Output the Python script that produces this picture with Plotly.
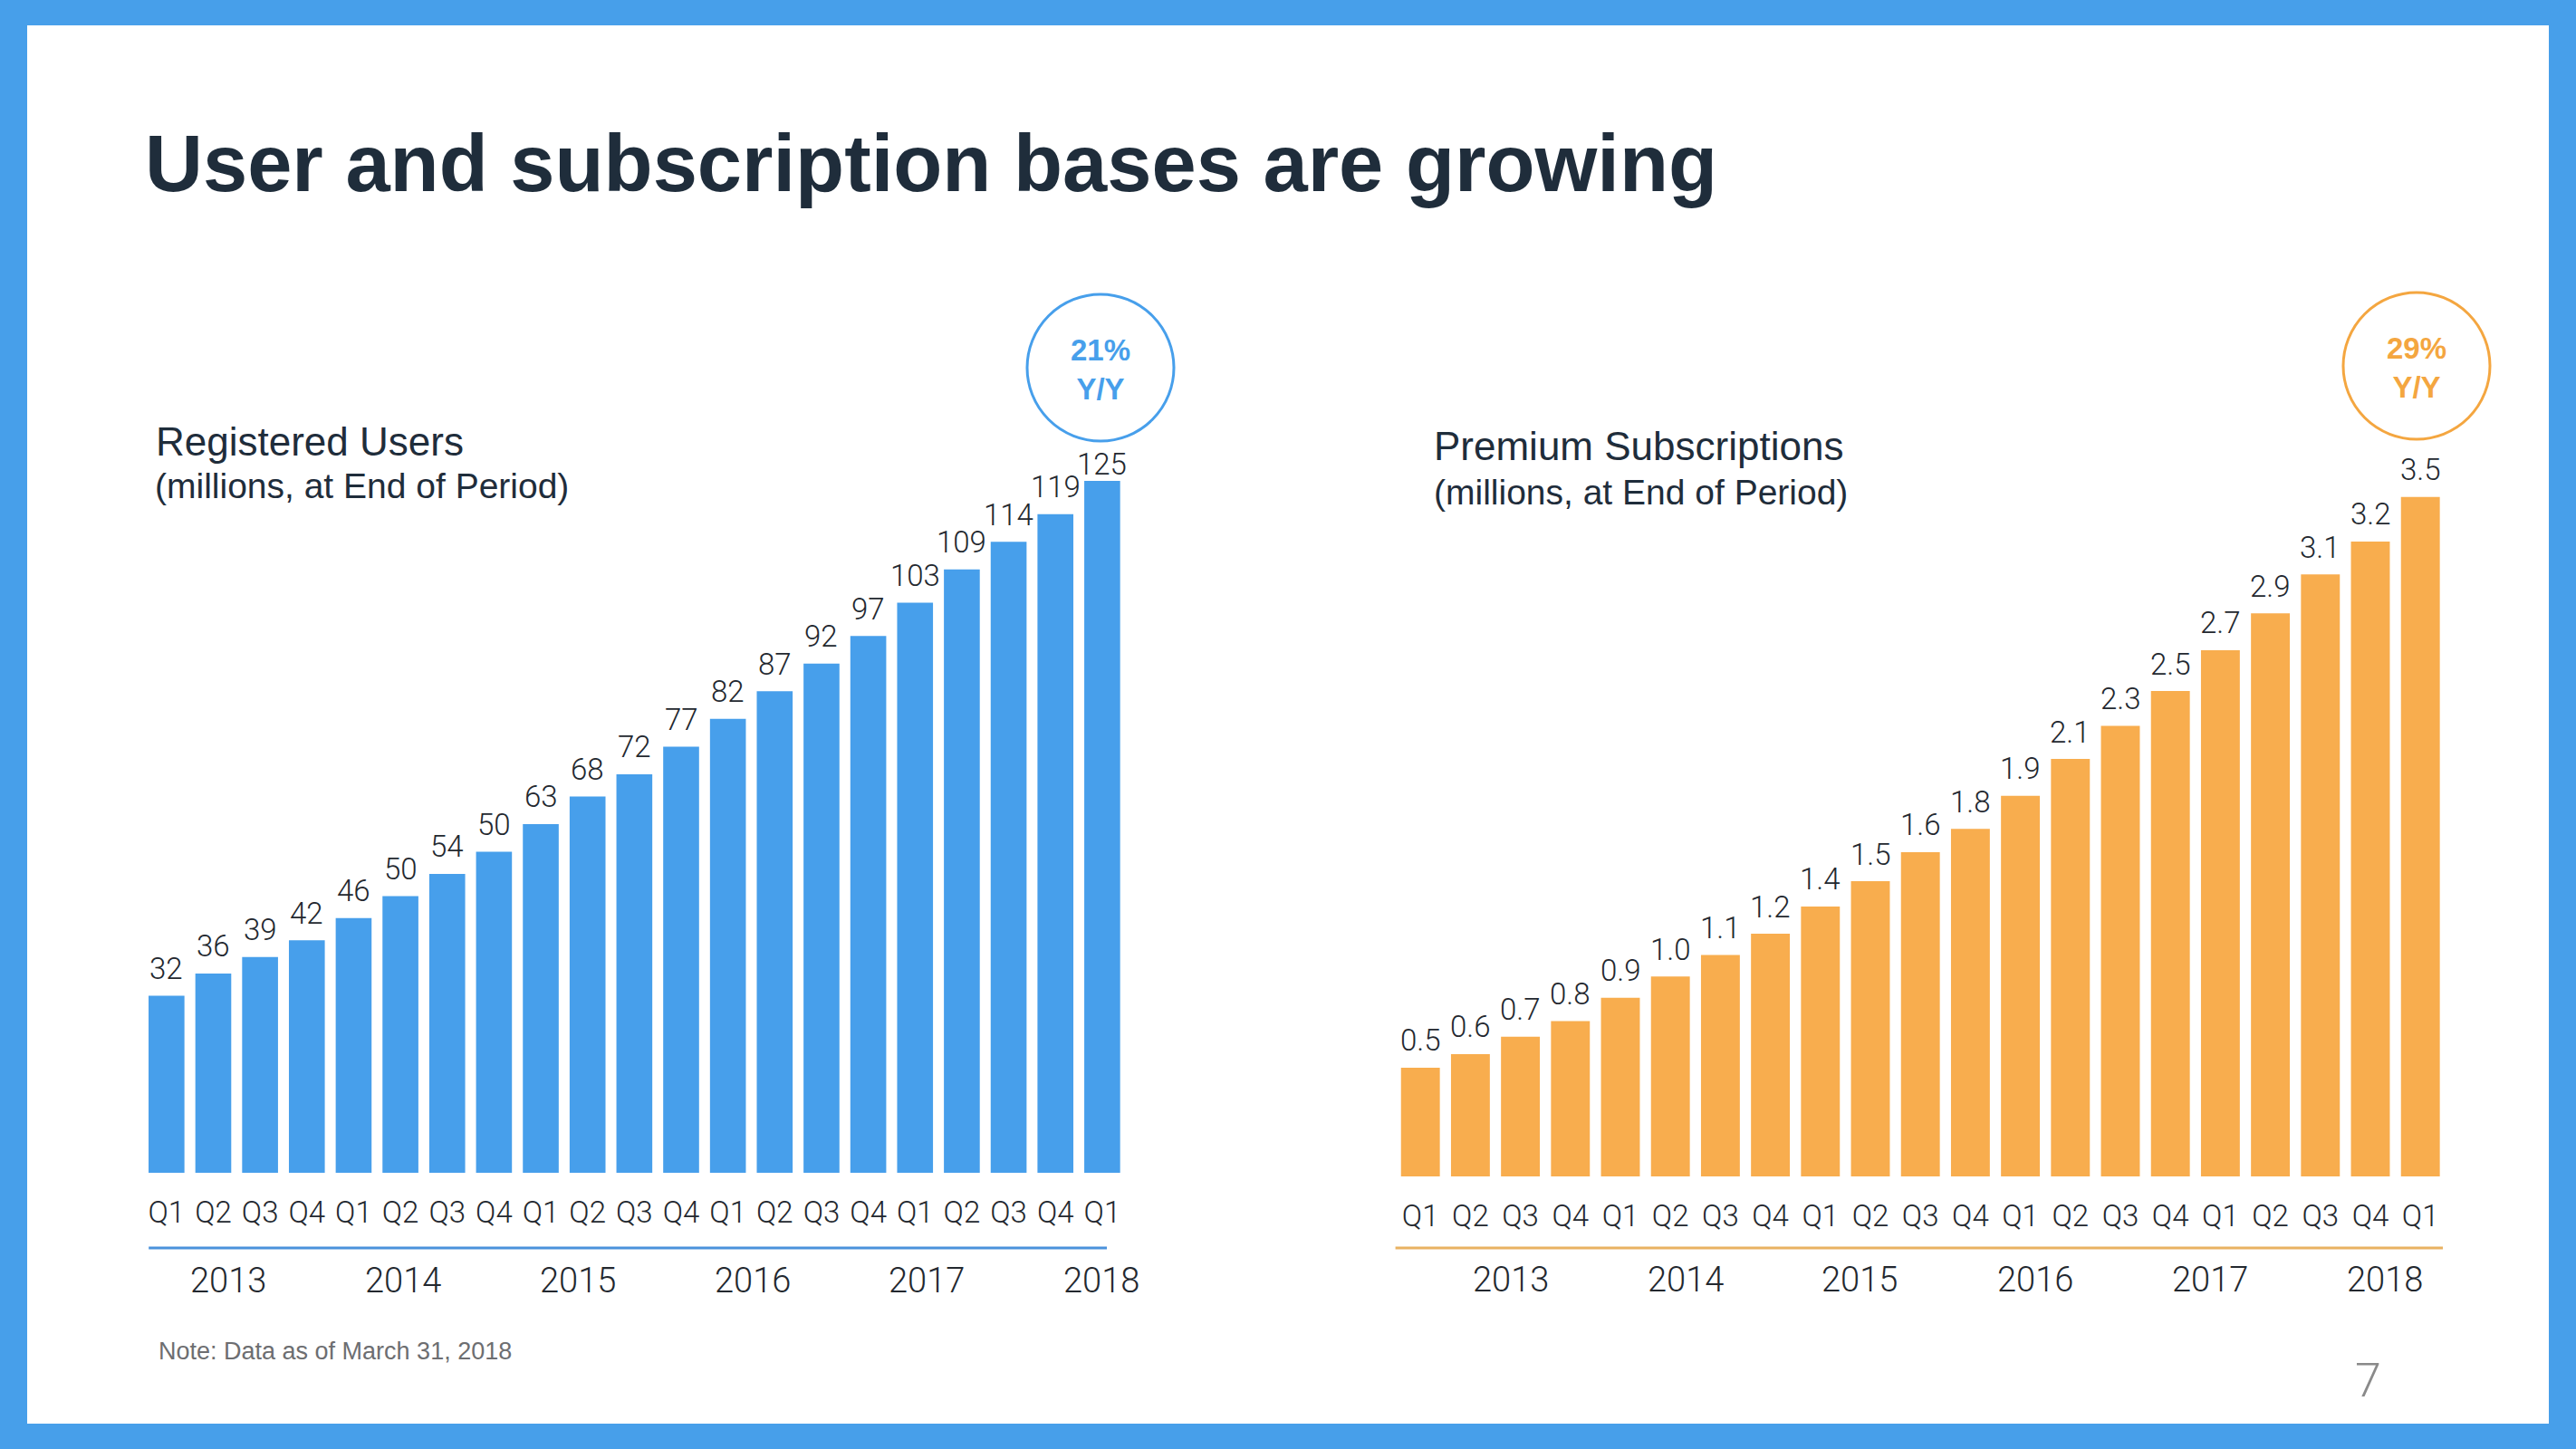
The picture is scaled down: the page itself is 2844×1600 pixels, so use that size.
import plotly.graph_objects as go

W, H = 2844, 1600

# ---------------- data ----------------
periods = [f"{y} Q{q}" for y in range(2013, 2018) for q in range(1, 5)] + ["2018 Q1"]
quarter_labels = ["Q1", "Q2", "Q3", "Q4"] * 5 + ["Q1"]
years = ["2013", "2014", "2015", "2016", "2017", "2018"]

users_values = [32, 36, 39, 42, 46, 50, 54, 58, 63, 68, 72, 77, 82, 87, 92, 97, 103, 109, 114, 119, 125]
users_labels = ["32", "36", "39", "42", "46", "50", "54", "50", "63", "68", "72", "77", "82", "87",
                "92", "97", "103", "109", "114", "119", "125"]

premium_values = [0.56, 0.63, 0.72, 0.80, 0.92, 1.03, 1.14, 1.25, 1.39, 1.52, 1.67, 1.79, 1.96,
                  2.15, 2.32, 2.50, 2.71, 2.90, 3.10, 3.27, 3.50]
premium_labels = ["0.5", "0.6", "0.7", "0.8", "0.9", "1.0", "1.1", "1.2", "1.4", "1.5", "1.6", "1.8",
                  "1.9", "2.1", "2.3", "2.5", "2.7", "2.9", "3.1", "3.2", "3.5"]

users_growth = ["21%", "Y/Y"]
premium_growth = ["29%", "Y/Y"]

# ---------------- style ----------------
BLUE = "#479FEB"
ORANGE = "#F8AD4E"
ORANGE_C = "#F4A640"
ORANGE_LINE = "#E9B262"
BLUE_LINE = "#4A92DC"
DARK = "#1F2D3B"
LABEL = "#23282F"
GRAY = "#6D6E71"
FONT = "Liberation Sans, Arial, Helvetica, sans-serif"
LIGHT = "Roboto, Liberation Sans, Arial, sans-serif"


def fx(px):
    return px / W


def fy(py):
    return 1 - py / H


fig = go.Figure()
fig.add_trace(go.Bar(x=periods, y=users_values, marker=dict(color=BLUE, line=dict(width=0)),
                     width=0.767, xaxis="x", yaxis="y", hoverinfo="x+y"))
fig.add_trace(go.Bar(x=periods, y=premium_values, marker=dict(color=ORANGE, line=dict(width=0)),
                     width=0.777, xaxis="x2", yaxis="y2", hoverinfo="x+y"))

annotations = []
n = len(periods)
for i, (p, v, t) in enumerate(zip(periods, users_values, users_labels)):
    annotations.append(dict(x=p, y=v, xref="x", yref="y", text=t, showarrow=False,
                            yanchor="middle", xanchor="center", yshift=18 if i == n - 1 else 30,
                            font=dict(family=LIGHT, size=33, color=LABEL, weight=300)))
for i, (p, v, t) in enumerate(zip(periods, premium_values, premium_labels)):
    annotations.append(dict(x=p, y=v, xref="x2", yref="y2", text=t, showarrow=False,
                            yanchor="middle", xanchor="center", yshift=30,
                            font=dict(family=LIGHT, size=33, color=LABEL, weight=300)))

# year labels under the quarter ticks
left_year_pos = [1.32, 5.06, 8.80, 12.53, 16.25, 19.98]
right_year_pos = [1.81, 5.30, 8.78, 12.30, 15.79, 19.29]
for yr, xp in zip(years, left_year_pos):
    annotations.append(dict(x=xp, y=fy(1414), xref="x", yref="paper", text=yr, showarrow=False,
                            yanchor="middle", xanchor="center",
                            font=dict(family=LIGHT, size=38, color=LABEL, weight=300)))
for yr, xp in zip(years, right_year_pos):
    annotations.append(dict(x=xp, y=fy(1413), xref="x2", yref="paper", text=yr, showarrow=False,
                            yanchor="middle", xanchor="center",
                            font=dict(family=LIGHT, size=38, color=LABEL, weight=300)))


def bold_lines(lines):
    return "<br>".join(f"<b>{s}</b>" for s in lines)


# titles and notes
annotations += [
    dict(x=fx(158), y=fy(180), xref="paper", yref="paper", text="<b>User and subscription bases are growing</b>",
         showarrow=False, xanchor="left", yanchor="middle", font=dict(family=FONT, size=88.5, color=DARK)),
    dict(x=fx(170), y=fy(488), xref="paper", yref="paper", text="Registered Users",
         showarrow=False, xanchor="left", yanchor="middle", font=dict(family=FONT, size=44, color=DARK)),
    dict(x=fx(169), y=fy(536), xref="paper", yref="paper", text="(millions, at End of Period)",
         showarrow=False, xanchor="left", yanchor="middle", font=dict(family=FONT, size=39, color=DARK)),
    dict(x=fx(1581), y=fy(492), xref="paper", yref="paper", text="Premium Subscriptions",
         showarrow=False, xanchor="left", yanchor="middle", font=dict(family=FONT, size=44, color=DARK)),
    dict(x=fx(1581), y=fy(543), xref="paper", yref="paper", text="(millions, at End of Period)",
         showarrow=False, xanchor="left", yanchor="middle", font=dict(family=FONT, size=39, color=DARK)),
    dict(x=fx(173), y=fy(1492), xref="paper", yref="paper", text="Note: Data as of March 31, 2018",
         showarrow=False, xanchor="left", yanchor="middle", font=dict(family=FONT, size=27, color=GRAY)),
    dict(x=fx(2614), y=fy(1524), xref="paper", yref="paper", text="7",
         showarrow=False, xanchor="center", yanchor="middle",
         font=dict(family=LIGHT, size=52, color="#8A8A8A", weight=300)),
    dict(x=fx(1215), y=fy(408), xref="paper", yref="paper", text=bold_lines(users_growth),
         showarrow=False, xanchor="center", yanchor="middle", font=dict(family=FONT, size=33, color=BLUE)),
    dict(x=fx(2668), y=fy(406), xref="paper", yref="paper", text=bold_lines(premium_growth),
         showarrow=False, xanchor="center", yanchor="middle", font=dict(family=FONT, size=33, color=ORANGE_C)),
]

shapes = [
    # white slide area inside blue frame
    dict(type="rect", xref="paper", yref="paper", x0=fx(30), x1=fx(2814), y0=fy(1572), y1=fy(28),
         fillcolor="white", line=dict(width=0), layer="below"),
    # separator lines between quarters and years
    dict(type="line", xref="x", yref="paper", x0=-0.38, x1=20.1, y0=fy(1378), y1=fy(1378),
         line=dict(color=BLUE_LINE, width=3)),
    dict(type="line", xref="x2", yref="paper", x0=-0.58, x1=20.45, y0=fy(1378), y1=fy(1378),
         line=dict(color=ORANGE_LINE, width=3)),
    # growth circles
    dict(type="circle", xref="paper", yref="paper", x0=fx(1134), x1=fx(1296), y0=fy(487), y1=fy(325),
         line=dict(color=BLUE, width=3), fillcolor="rgba(0,0,0,0)"),
    dict(type="circle", xref="paper", yref="paper", x0=fx(2587), x1=fx(2749), y0=fy(485), y1=fy(323),
         line=dict(color=ORANGE_C, width=3), fillcolor="rgba(0,0,0,0)"),
]

axis_common = dict(type="category", showgrid=False, zeroline=False, showline=False, ticks="",
                   tickfont=dict(family=LIGHT, size=33, color=LABEL, weight=300), range=[-0.5, 20.5],
                   tickmode="array", tickvals=periods, ticktext=quarter_labels, ticklabelstandoff=21)

fig.update_layout(
    width=W, height=H, autosize=False,
    margin=dict(l=0, r=0, t=0, b=0),
    paper_bgcolor="#479FEA", plot_bgcolor="rgba(0,0,0,0)",
    showlegend=False,
    xaxis=dict(domain=[fx(158), fx(1242.7)], anchor="y", **axis_common),
    yaxis=dict(domain=[fy(1295), fy(531)], range=[0, 125], visible=False, fixedrange=True),
    xaxis2=dict(domain=[fx(1540.6), fx(2699.8)], anchor="y2", **axis_common),
    yaxis2=dict(domain=[fy(1299), fy(548.6)], range=[0, 3.5], visible=False, fixedrange=True),
    annotations=annotations,
    shapes=shapes,
)

fig.write_html("out.html", config=dict(displayModeBar=False),
               post_script="document.body.style.margin='0';document.body.style.overflow='hidden';")
